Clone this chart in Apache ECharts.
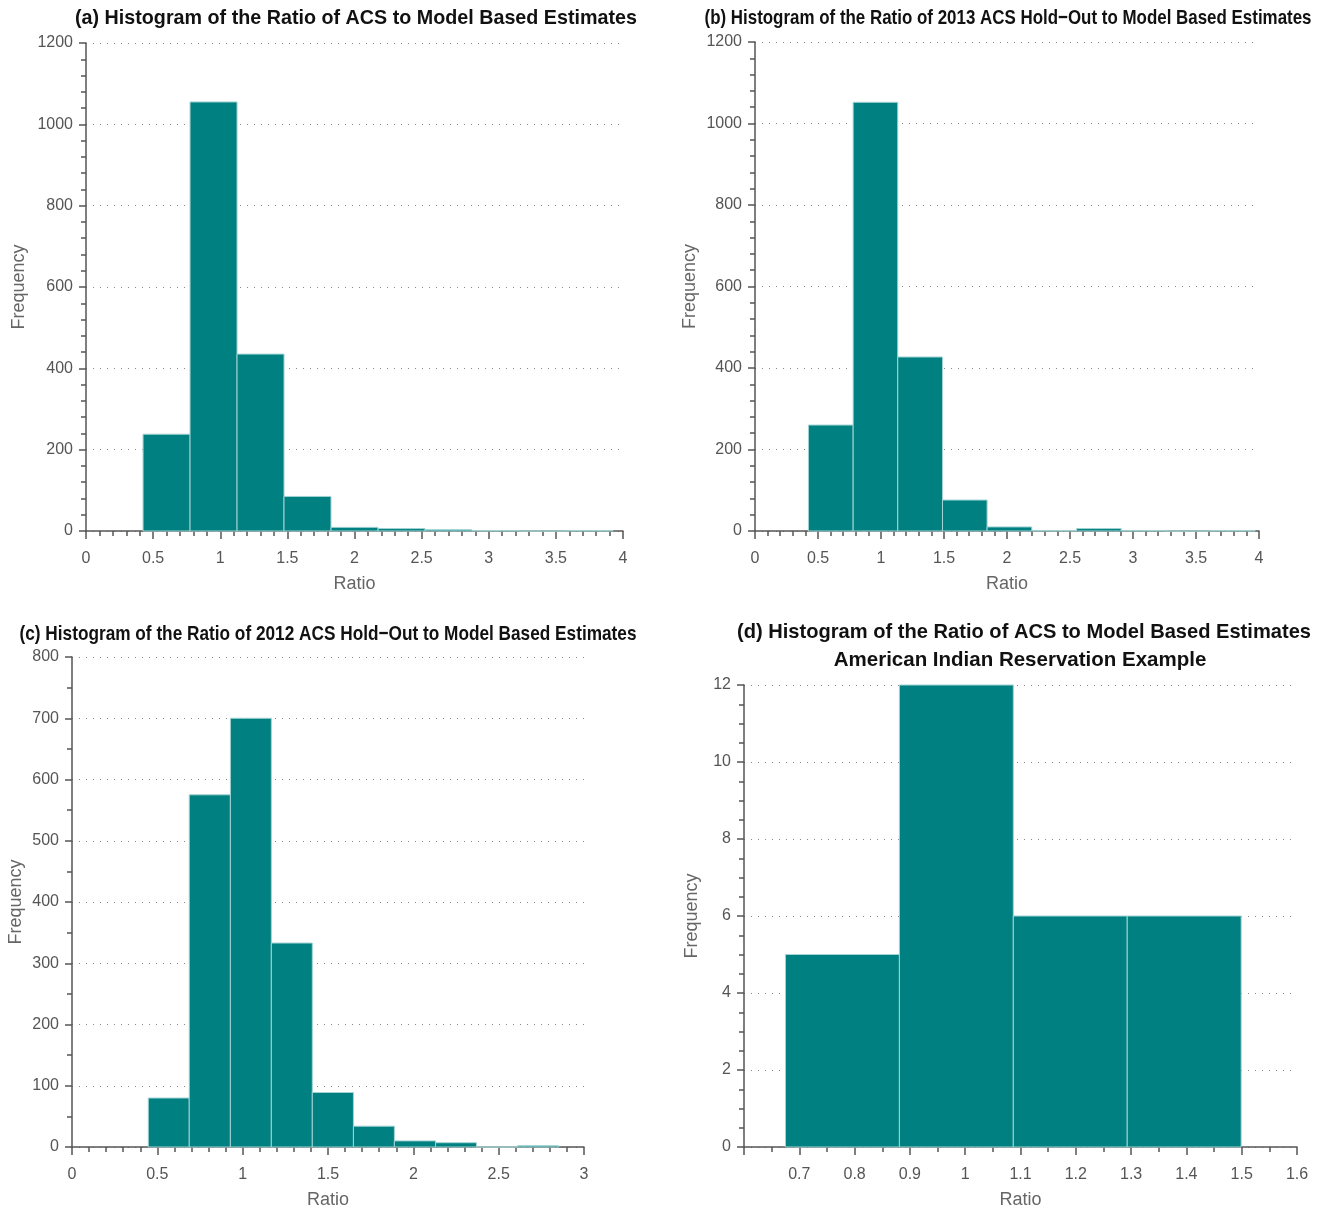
<!DOCTYPE html>
<html>
<head>
<meta charset="utf-8">
<script src="https://cdn.jsdelivr.net/npm/echarts@6/dist/echarts.min.js"></script>
<style>
html,body{margin:0;padding:0;background:#fff;}
#chart{width:1329px;height:1212px;}
</style>
</head>
<body>
<div id="chart"></div>
<script>
// ---- Data ----
const titleA = '(a) Histogram of the Ratio of ACS to Model Based Estimates';
const titleB = '(b) Histogram of the Ratio of 2013 ACS Hold\u2212Out to Model Based Estimates';
const titleC = '(c) Histogram of the Ratio of 2012 ACS Hold\u2212Out to Model Based Estimates';
const titleD1 = '(d) Histogram of the Ratio of ACS to Model Based Estimates';
const titleD2 = 'American Indian Reservation Example';

const edgesA = [0.425, 0.775, 1.125, 1.475, 1.825, 2.175, 2.525, 2.875, 3.225, 3.575, 3.925];
const countsA = [238, 1055, 435, 85, 9, 6, 3, 1, 0, 1];

const edgesB = [0.424, 0.779, 1.133, 1.488, 1.842, 2.197, 2.552, 2.906, 3.261, 3.615, 3.97];
const countsB = [260, 1052, 427, 76, 10, 1, 6, 1, 0, 1];

const edgesC = [0.447, 0.687, 0.928, 1.168, 1.408, 1.649, 1.889, 2.130, 2.370, 2.610, 2.851];
const countsC = [80, 575, 700, 333, 89, 34, 10, 7, 0, 2];

const edgesD = [0.675, 0.881, 1.087, 1.293, 1.499];
const countsD = [5, 12, 6, 6];

const xLabel = 'Ratio';
const yLabel = 'Frequency';

// ---- Helpers ----
function toBins(edges, counts) {
  return counts.map((c, i) => [edges[i], edges[i + 1], c]);
}
const FILL = '#008080';
const EDGE = '#a3d3d3';
const AXIS = '#555555';
const LABEL = '#555555';
const FONT = "'Liberation Sans', Arial, sans-serif";
const TFONT_FAMILY = "'Liberation Sans', Arial, sans-serif";
const TSIZE = 21;

const measureCtx = document.createElement('canvas').getContext('2d');
function fitScale(text, target, size) {
  measureCtx.font = 'bold ' + size + 'px ' + TFONT_FAMILY;
  return target / measureCtx.measureText(text).width;
}
function titleText(text, cx, cy, targetWidth, scaleOverride) {
  const s = scaleOverride || fitScale(text, targetWidth, TSIZE);
  return {
    type: 'text', x: cx, y: cy, scaleX: s, scaleY: 1,
    style: {
      text: text, fill: '#111', fontSize: TSIZE, fontWeight: 'bold',
      fontFamily: TFONT_FAMILY, align: 'center', verticalAlign: 'middle'
    }
  };
}

function renderItem(params, api) {
  const p0 = api.coord([api.value(0), api.value(2)]);
  const p1 = api.coord([api.value(1), 0]);
  return {
    type: 'rect',
    shape: { x: p0[0], y: p0[1], width: p1[0] - p0[0], height: p1[1] - p0[1] },
    style: { fill: FILL, stroke: EDGE, lineWidth: 1 }
  };
}

const nameStyle = { color: '#666', fontSize: 18, fontFamily: FONT };
const tickLabel = { color: LABEL, fontSize: 16, fontFamily: FONT };

function xAxis(idx, min, max, interval, minorSplit, hideMin) {
  return {
    type: 'value', gridIndex: idx, min: min, max: max, interval: interval,
    name: xLabel, nameLocation: 'middle', nameGap: 44,
    nameTextStyle: nameStyle,
    axisLine: { show: true, onZero: false, lineStyle: { color: AXIS, width: 1.5 } },
    axisTick: { show: true, length: 8, inside: false, lineStyle: { color: AXIS, width: 1.5 } },
    minorTick: { show: true, splitNumber: minorSplit, length: 5, lineStyle: { color: AXIS, width: 1.5 } },
    axisLabel: Object.assign({ margin: 20, showMinLabel: !hideMin, formatter: v => String(+v.toFixed(2)) }, tickLabel),
    splitLine: { show: false }
  };
}
function yAxis(idx, min, max, interval, minorSplit, nameGap) {
  return {
    type: 'value', gridIndex: idx, min: min, max: max, interval: interval,
    name: yLabel, nameLocation: 'middle', nameGap: nameGap,
    nameTextStyle: nameStyle,
    axisLine: { show: true, lineStyle: { color: AXIS, width: 1.5 } },
    axisTick: { show: true, length: 7, lineStyle: { color: AXIS, width: 1.5 } },
    minorTick: { show: true, splitNumber: minorSplit, length: 5, lineStyle: { color: AXIS, width: 1.5 } },
    axisLabel: Object.assign({ margin: 13, formatter: v => String(v) }, tickLabel),
    splitLine: { show: true, lineStyle: { color: '#888', type: [1, 6], width: 1 } }
  };
}

const dScale = fitScale(titleD1, 574, TSIZE);

const option = {
  animation: false,
  backgroundColor: '#fff',
  graphic: [
    titleText(titleA, 356, 18, 562),
    titleText(titleB, 1008, 18, 607),
    titleText(titleC, 328, 634, 617),
    titleText(titleD1, 1024, 632, 574),
    titleText(titleD2, 1020, 660, 376, dScale * 1.02)
  ],
  grid: [
    { left: 86, top: 43, width: 537, height: 488 },
    { left: 755, top: 42, width: 504, height: 489 },
    { left: 72, top: 657, width: 512, height: 490 },
    { left: 744, top: 685, width: 553, height: 462 }
  ],
  xAxis: [
    xAxis(0, 0, 4, 0.5, 5),
    xAxis(1, 0, 4, 0.5, 5),
    xAxis(2, 0, 3, 0.5, 5),
    xAxis(3, 0.6, 1.6, 0.1, 2, true)
  ],
  yAxis: [
    yAxis(0, 0, 1200, 200, 5, 58),
    yAxis(1, 0, 1200, 200, 5, 56),
    yAxis(2, 0, 800, 100, 2, 47),
    yAxis(3, 0, 12, 2, 4, 43)
  ],
  series: [
    { type: 'custom', xAxisIndex: 0, yAxisIndex: 0, renderItem: renderItem, encode: { x: [0, 1], y: 2 }, data: toBins(edgesA, countsA) },
    { type: 'custom', xAxisIndex: 1, yAxisIndex: 1, renderItem: renderItem, encode: { x: [0, 1], y: 2 }, data: toBins(edgesB, countsB) },
    { type: 'custom', xAxisIndex: 2, yAxisIndex: 2, renderItem: renderItem, encode: { x: [0, 1], y: 2 }, data: toBins(edgesC, countsC) },
    { type: 'custom', xAxisIndex: 3, yAxisIndex: 3, renderItem: renderItem, encode: { x: [0, 1], y: 2 }, data: toBins(edgesD, countsD) }
  ]
};

const chart = echarts.init(document.getElementById('chart'), null, { renderer: 'canvas' });
chart.setOption(option);
</script>
</body>
</html>
